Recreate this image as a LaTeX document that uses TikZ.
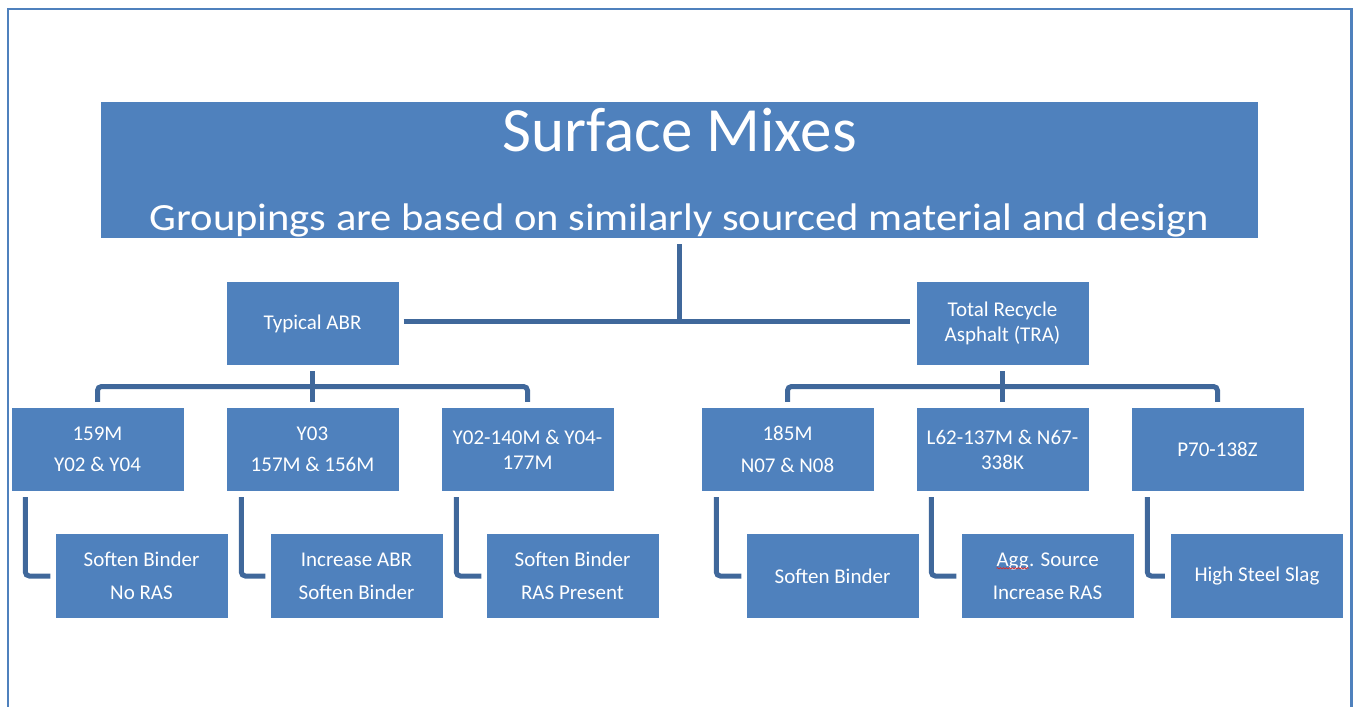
\documentclass[tikz,border=0pt]{standalone}
\usepackage{fontspec}
\setmainfont{Carlito}
\usetikzlibrary{calc,decorations.pathmorphing}

\definecolor{boxblue}{RGB}{79,129,189}
\definecolor{linkblue}{RGB}{64,104,155}
\definecolor{waveRed}{RGB}{215,45,45}

% red wavy underline, as left by a spell checker
\newcommand\spellwave[1]{\tikz[baseline=(flagword.base)]{%
  \node[inner sep=0pt, outer sep=0pt, minimum width=0pt, minimum height=0pt,
        fill=none, draw=none, text=white] (flagword) {#1};%
  \draw[waveRed, line width=0.7pt, decorate,
        decoration={snake, amplitude=0.6pt, segment length=3pt}]
        ([yshift=-2pt]flagword.base west) -- ([yshift=-2pt]flagword.base east);}}

\begin{document}
\begin{tikzpicture}[x=1pt,y=-1pt,
  box/.style={fill=boxblue, draw=none, minimum width=172pt, minimum height=83pt,
    inner sep=2pt, text=white, align=center, font=\fontsize{21}{25}\selectfont},
  lowbox/.style={box, minimum height=84pt},
  conn/.style={draw=linkblue, line width=5pt, rounded corners=4pt},
  frameline/.style={draw=boxblue, line width=2.5pt},
  titletext/.style={anchor=base, text=white, inner sep=0pt}]

\useasboundingbox (0,0) rectangle (1353,707);

% page frame, open at the bottom
\draw[frameline] (8,707) -- (8,9) -- (1351.5,9) -- (1351.5,707);

% heading block
\node[fill=boxblue, minimum width=1157pt, minimum height=136pt, inner sep=0pt] (title) at (679.5,170) {};
\begin{scope}
  \clip (title.south west) rectangle (title.north east);
  \node[titletext, font=\fontsize{63}{70}\selectfont] (headline) at (679.5,151) {Surface Mixes};
  \node[titletext, font=\fontsize{38.5}{44}\selectfont] (subline) at (679.5,230)
    {\scalebox{1.105}[1]{Groupings are based on similarly sourced material and design}};
\end{scope}

% the two families
\node[box] (abr) at (312.5,323.5) {Typical ABR};
\node[box] (tra) at (1002.5,323.5) {Total Recycle\\Asphalt (TRA)};

% mix groups
\node[box] (g1) at (97.5,449.5)  {159M\\[6.5pt]Y02 \& Y04};
\node[box] (g2) at (312.5,449.5) {Y03\\[6.5pt]157M \& 156M};
\node[box] (g3) at (527.5,449.5) {Y02-140M \& Y04-\\177M};
\node[box] (g4) at (787.5,449.5) {185M\\[6.5pt]N07 \& N08};
\node[box] (g5) at (1002.5,449.5) {L62-137M \& N67-\\338K};
\node[box] (g6) at (1217.5,449.5) {P70-138Z};

% remarks
\node[lowbox] (n1) at (141.5,576)  {Soften Binder\\[8pt]No RAS};
\node[lowbox] (n2) at (356.5,576)  {Increase ABR\\[8pt]Soften Binder};
\node[lowbox] (n3) at (572.5,576)  {Soften Binder\\[8pt]RAS Present};
\node[lowbox] (n4) at (832.5,576)  {Soften Binder};
\node[lowbox] (n5) at (1047.5,576) {\spellwave{Agg}. Source\\[8pt]Increase RAS};
\node[lowbox] (n6) at (1257,576)   {High Steel Slag};

% heading to families
\coordinate (hub) at (679.5,321.5);
\draw[conn, rounded corners=0pt] ([yshift=-6pt]title.south) -- (hub);
\draw[conn, rounded corners=0pt] ([xshift=5pt]abr.east |- hub) -- ([xshift=-6pt]tra.west |- hub);

% families to groups
\coordinate (abrbar) at (312.5,386.5);
\coordinate (trabar) at (1002.5,386.5);
\draw[conn] ([yshift=6pt]g1.north) |- (abrbar) -| ([yshift=6pt]g3.north);
\draw[conn, rounded corners=0pt] ([yshift=-6pt]abr.south) -- ([yshift=6pt]g2.north);
\draw[conn] ([yshift=6pt]g4.north) |- (trabar) -| ([yshift=6pt]g6.north);
\draw[conn, rounded corners=0pt] ([yshift=-6pt]tra.south) -- ([yshift=6pt]g5.north);

% groups to remarks
\draw[conn] ([xshift=14pt,yshift=-6pt]g1.south west) |- ([xshift=-5pt]n1.west);
\draw[conn] ([xshift=15pt,yshift=-6pt]g2.south west) |- ([xshift=-5pt]n2.west);
\draw[conn] ([xshift=15pt,yshift=-6pt]g3.south west) |- ([xshift=-5pt]n3.west);
\draw[conn] ([xshift=15pt,yshift=-6pt]g4.south west) |- ([xshift=-5pt]n4.west);
\draw[conn] ([xshift=15pt,yshift=-6pt]g5.south west) |- ([xshift=-5pt]n5.west);
\draw[conn] ([xshift=16pt,yshift=-6pt]g6.south west) |- ([xshift=-6pt]n6.west);
\end{tikzpicture}
\end{document}
